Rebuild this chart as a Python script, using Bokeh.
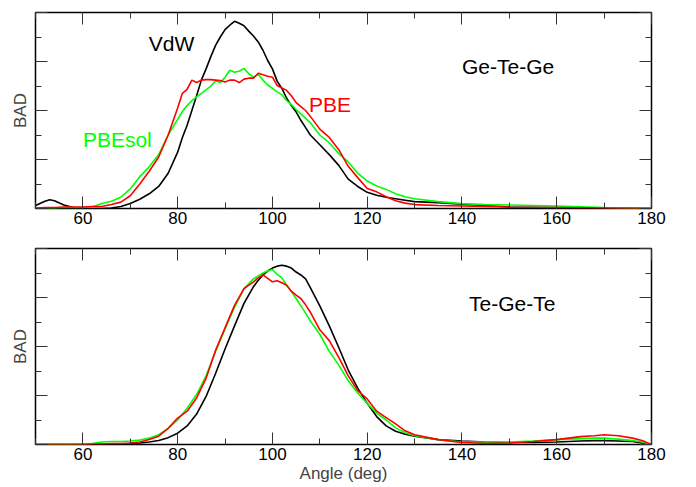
from bokeh.plotting import figure
from bokeh.models import Range1d, LinearAxis, FixedTicker, Label
from bokeh.layouts import column
from bokeh.embed import file_html
from bokeh.resources import INLINE

# ---------------- data: top panel (Ge-Te-Ge) ----------------
angle_top = [50, 52, 53, 54, 56, 58, 60, 62, 64, 66, 68, 70, 72, 74, 76, 78, 80, 81, 82, 83,
             84, 85, 86, 87, 88, 89, 90, 91, 92, 93, 94, 95, 96, 97, 98, 99, 100, 101, 102, 103,
             104, 105, 106, 107, 108, 110, 112, 114, 116, 118, 120, 122, 124, 126, 128, 130,
             135, 140, 145, 150, 160, 170, 180]
vdw_top = [0.06, 0.15, 0.18, 0.16, 0.07, 0.02, 0.01, 0.0, 0.0, 0.01, 0.04, 0.1, 0.19, 0.3, 0.45,
           0.72, 1.15, 1.45, 1.7, 2.0, 2.3, 2.62, 2.85, 3.1, 3.33, 3.5, 3.65, 3.74, 3.82, 3.78,
           3.73, 3.62, 3.52, 3.4, 3.23, 3.02, 2.85, 2.6, 2.45, 2.25, 2.1, 1.97, 1.8, 1.65, 1.5,
           1.3, 1.1, 0.88, 0.6, 0.45, 0.33, 0.27, 0.23, 0.2, 0.17, 0.14, 0.12, 0.09, 0.06, 0.03,
           0.02, 0.01, 0.0]
pbe_top = [0.01, 0.02, 0.02, 0.02, 0.03, 0.03, 0.03, 0.04, 0.04, 0.08, 0.13, 0.26, 0.5, 0.76, 1.05,
           1.5, 2.05, 2.35, 2.43, 2.62, 2.57, 2.62, 2.63, 2.63, 2.62, 2.61, 2.58, 2.62, 2.62, 2.57,
           2.64, 2.66, 2.66, 2.76, 2.73, 2.7, 2.68, 2.51, 2.46, 2.41, 2.3, 2.16, 2.08, 2.0, 1.88,
           1.62, 1.45, 1.2, 0.86, 0.63, 0.41, 0.34, 0.24, 0.16, 0.11, 0.08, 0.06, 0.05, 0.04, 0.03,
           0.02, 0.01, 0.0]
pbesol_top = [0.01, 0.01, 0.01, 0.01, 0.02, 0.02, 0.02, 0.03, 0.1, 0.15, 0.23, 0.4, 0.65, 0.85, 1.1,
              1.5, 1.82, 1.98, 2.1, 2.2, 2.28, 2.35, 2.42, 2.5, 2.6, 2.57, 2.68, 2.82, 2.78, 2.8,
              2.86, 2.75, 2.68, 2.74, 2.62, 2.52, 2.45, 2.38, 2.32, 2.2, 2.12, 2.02, 1.93, 1.84, 1.75,
              1.5, 1.34, 1.12, 0.95, 0.72, 0.56, 0.46, 0.39, 0.3, 0.24, 0.2, 0.14, 0.1, 0.08, 0.07,
              0.05, 0.02, 0.0]

# ---------------- data: bottom panel (Te-Ge-Te) ----------------
angle_bot = [50, 55, 60, 62, 64, 66, 68, 70, 72, 74, 76, 78, 80, 82, 84, 86, 88, 90, 92, 94, 96, 97,
             98, 99, 100, 101, 102, 103, 104, 105, 106, 107, 108, 110, 112, 114, 116, 118, 120, 122,
             124, 126, 128, 130, 135, 140, 145, 150, 155, 160, 165, 168, 170, 173, 176, 178, 180]
vdw_bot = [0, 0, 0, 0, 0, 0.01, 0.01, 0.02, 0.03, 0.05, 0.08, 0.14, 0.23, 0.38, 0.62, 0.98, 1.45,
           1.95, 2.42, 2.88, 3.22, 3.35, 3.46, 3.54, 3.6, 3.64, 3.66, 3.64, 3.6, 3.52, 3.46, 3.38,
           3.2, 2.83, 2.42, 1.98, 1.52, 1.15, 0.84, 0.57, 0.38, 0.27, 0.21, 0.17, 0.1, 0.07, 0.05,
           0.04, 0.04, 0.05, 0.07, 0.08, 0.08, 0.07, 0.06, 0.03, 0.0]
pbesol_bot = [0, 0, 0.01, 0.02, 0.05, 0.06, 0.06, 0.07, 0.09, 0.13, 0.2, 0.33, 0.5, 0.74, 1.02, 1.4,
              1.9, 2.36, 2.8, 3.18, 3.38, 3.44, 3.5, 3.54, 3.57, 3.47, 3.4, 3.25, 3.12, 2.98, 2.83,
              2.68, 2.52, 2.25, 1.9, 1.62, 1.3, 1.05, 0.84, 0.64, 0.5, 0.34, 0.24, 0.18, 0.1, 0.05,
              0.05, 0.05, 0.07, 0.1, 0.12, 0.13, 0.13, 0.11, 0.08, 0.05, 0.0]
pbe_bot = [0, 0, 0, 0.01, 0.01, 0.02, 0.02, 0.03, 0.05, 0.1, 0.17, 0.33, 0.54, 0.68, 0.95, 1.35, 1.92,
           2.38, 2.84, 3.18, 3.32, 3.4, 3.46, 3.39, 3.32, 3.34, 3.3, 3.25, 3.13, 3.05, 2.98, 2.85,
           2.7, 2.34, 2.12, 1.78, 1.4, 1.1, 0.93, 0.68, 0.55, 0.42, 0.28, 0.2, 0.1, 0.04, 0.02,
           0.03, 0.06, 0.1, 0.16, 0.18, 0.2, 0.18, 0.13, 0.08, 0.0]

x_ticks = [60, 80, 100, 120, 140, 160, 180]
x_minor = [50, 60, 70, 80, 90, 100, 110, 120, 130, 140, 150, 160, 170, 180]
y_ticks = [0, 1, 2, 3, 4]
y_minor = [0.5, 1.5, 2.5, 3.5]

FONT = "Liberation Sans"
BLACK, RED, GREEN = "#000000", "#ff0000", "#00ff00"


def style_axis(ax, ticks, minor, show_labels):
    ax.ticker = FixedTicker(ticks=ticks, minor_ticks=minor)
    ax.axis_line_color = None
    ax.major_tick_in = 12
    ax.major_tick_out = 0
    ax.minor_tick_in = 6
    ax.minor_tick_out = 0
    ax.major_tick_line_color = "#333333"
    ax.minor_tick_line_color = "#333333"
    ax.major_tick_line_width = 1
    ax.minor_tick_line_width = 1
    ax.major_label_text_font = FONT
    ax.major_label_text_font_size = "17px"
    ax.major_label_text_color = "black"
    if show_labels:
        ax.major_label_standoff = 3
    else:
        ax.major_label_overrides = {t: "" for t in ticks}
        ax.major_label_standoff = 0


def make_panel(xs, ser, top_border, bottom_border, xlabel):
    p = figure(frame_width=616, frame_height=196, x_range=Range1d(50, 180), y_range=Range1d(0, 4),
               output_backend="svg", toolbar_location=None,
               min_border_left=35, min_border_right=22,
               min_border_top=top_border, min_border_bottom=bottom_border)
    p.xgrid.visible = False
    p.ygrid.visible = False
    p.outline_line_color = "black"
    p.outline_line_width = 1.5
    p.background_fill_color = "white"
    p.border_fill_color = "white"

    style_axis(p.xaxis[0], x_ticks, x_minor, True)
    style_axis(p.yaxis[0], y_ticks, y_minor, False)
    p.yaxis[0].axis_label = "BAD"
    p.yaxis[0].axis_label_text_font = FONT
    p.yaxis[0].axis_label_text_font_style = "normal"
    p.yaxis[0].axis_label_text_font_size = "17px"
    p.yaxis[0].axis_label_standoff = 6
    if xlabel:
        p.xaxis[0].axis_label = xlabel
        p.xaxis[0].axis_label_text_font = FONT
        p.xaxis[0].axis_label_text_font_style = "normal"
        p.xaxis[0].axis_label_text_font_size = "17px"
        p.xaxis[0].axis_label_standoff = 1

    top_ax = LinearAxis()
    style_axis(top_ax, x_ticks, x_minor, False)
    p.add_layout(top_ax, "above")
    right_ax = LinearAxis()
    style_axis(right_ax, y_ticks, y_minor, False)
    p.add_layout(right_ax, "right")

    for ys, col in ser:
        p.line(xs, ys, line_color=col, line_width=1.6)
    return p


p1 = make_panel(angle_top, [(vdw_top, BLACK), (pbesol_top, GREEN), (pbe_top, RED)], 12, 28, None)
p2 = make_panel(angle_bot, [(vdw_bot, BLACK), (pbesol_bot, GREEN), (pbe_bot, RED)], 12, 43,
                "Angle (deg)")

for p, txt, x, y, col in [(p1, "VdW", 73.9, 3.36, BLACK), (p1, "Ge-Te-Ge", 140.0, 2.9, BLACK),
                          (p1, "PBE", 107.7, 2.12, RED), (p1, "PBEsol", 60.0, 1.41, GREEN),
                          (p2, "Te-Ge-Te", 141.5, 2.87, BLACK)]:
    p.add_layout(Label(x=x, y=y, text=txt, text_color=col, text_font=FONT,
                       text_font_size="21px", text_baseline="alphabetic", text_align="left"))

layout = column(p1, p2, spacing=0)
open("out.html", "w").write(file_html(layout, INLINE))
